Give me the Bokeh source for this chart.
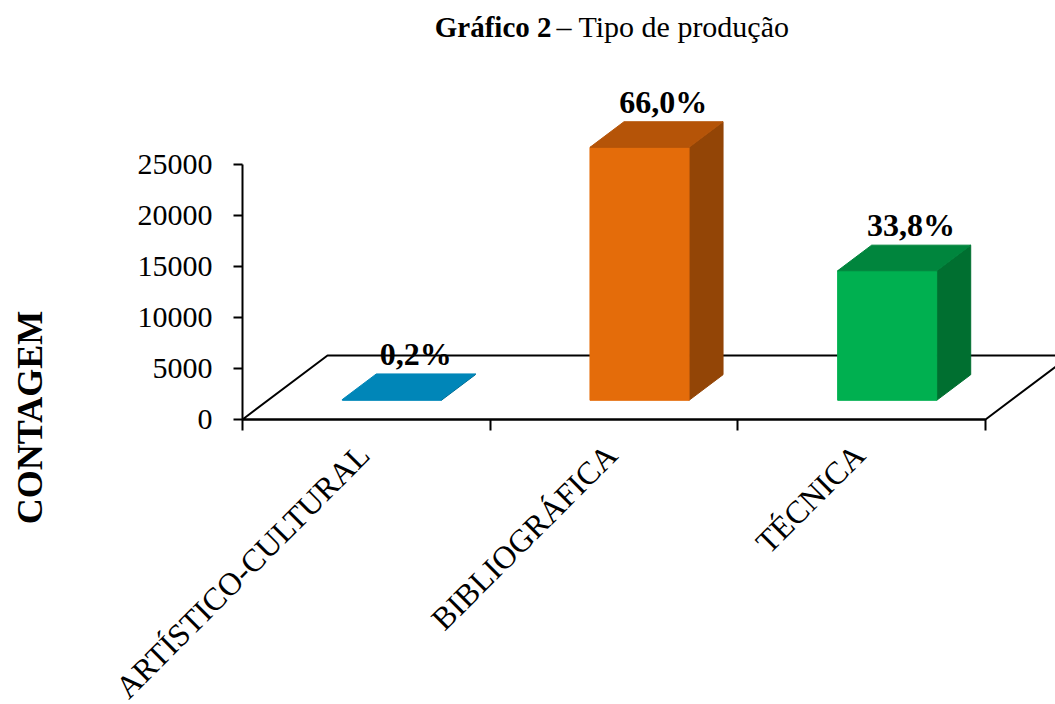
import math

from bokeh.core.properties import value
from bokeh.embed import file_html
from bokeh.models import FixedTicker, Label, LinearAxis, Range1d
from bokeh.plotting import figure
from bokeh.resources import INLINE

# ---- data -------------------------------------------------------------
categories = ["ARTÍSTICO-CULTURAL", "BIBLIOGRÁFICA", "TÉCNICA"]
counts = [75, 24800, 12700]
y_ticks = [0, 5000, 10000, 15000, 20000, 25000]

front_colors = ["#0088BA", "#E46C0A", "#00B050"]
top_colors = ["#0086B8", "#B55408", "#00853D"]
side_colors = ["#006A90", "#934506", "#006F30"]

# ---- layout -----------------------------------------------------------
W, H = 1055, 704
ORIGIN_X, ORIGIN_Y = 242, 419   # pixel position of the axes origin
PX_PER_CAT = 247.67             # pixels per category slot
PX_PER_UNIT = 0.0102            # pixels per count
SERIF = "Liberation Serif"


def px_x(px):
    return (px - ORIGIN_X) / PX_PER_CAT


def px_y(py):
    return (ORIGIN_Y - py) / PX_PER_UNIT


# oblique depth of the floor, in data units
DX = 85 / PX_PER_CAT
DY = 64 / PX_PER_UNIT
BAR_W = 0.4
D_FRONT, D_BACK = 0.3, 0.7
LABEL_SHIFT = -0.01

p = figure(
    width=W, height=H,
    x_range=Range1d(px_x(0), px_x(W)), y_range=Range1d(px_y(H), px_y(0)),
    x_axis_location=None, y_axis_location=None,
    output_backend="svg", toolbar_location=None,
    min_border=0,
)
p.outline_line_color = None
p.grid.visible = False
p.background_fill_color = "white"
p.border_fill_color = "white"

# floor of the 3-D plot area
n = len(categories)
p.patch([0, n, n + DX, DX], [0, 0, DY, DY],
        fill_color="white", line_color="black", line_width=2)

# 3-D bars: right side, front face, top face
for i, (v, fc, tc, sc) in enumerate(zip(counts, front_colors, top_colors, side_colors)):
    c = i + 0.5
    xl, xr = c - BAR_W / 2, c + BAR_W / 2
    fx, fy = D_FRONT * DX, D_FRONT * DY
    bx, by = D_BACK * DX, D_BACK * DY
    p.patch([xr + fx, xr + bx, xr + bx, xr + fx], [fy, by, by + v, fy + v],
            fill_color=sc, line_color=sc, line_width=1)
    p.patch([xl + fx, xr + fx, xr + fx, xl + fx], [fy, fy, fy + v, fy + v],
            fill_color=fc, line_color=fc, line_width=1)
    p.patch([xl + fx, xr + fx, xr + bx, xl + bx], [fy + v, fy + v, by + v, by + v],
            fill_color=tc, line_color=tc, line_width=1)

# percentage labels above each bar
total = sum(counts)
pct = [f"{v / total * 100:.1f}".replace(".", ",") + "%" for v in counts]
p.text(
    x=[i + 0.5 + 0.58 * DX for i in range(n)],
    y=[v + D_BACK * DY + 20 / PX_PER_UNIT for v in counts],
    text=pct, text_align="center", text_baseline="alphabetic",
    text_font=value(SERIF), text_font_style="bold",
    text_font_size="32px", text_color="black",
)

# category axis along the front edge of the floor
xa = LinearAxis(fixed_location=0)
xa.ticker = FixedTicker(ticks=[i + 0.5 + LABEL_SHIFT for i in range(n)],
                        minor_ticks=list(range(n + 1)))
xa.major_label_overrides = {i + 0.5 + LABEL_SHIFT: cat for i, cat in enumerate(categories)}
xa.major_label_orientation = math.pi / 4
xa.major_tick_out = 0
xa.major_tick_in = 0
xa.minor_tick_out = 11
xa.minor_tick_in = 0
xa.minor_tick_line_width = 2
xa.minor_tick_line_color = "black"
xa.bounds = (0, n)
xa.axis_line_width = 2
xa.axis_line_color = "black"
xa.major_label_text_font = SERIF
xa.major_label_text_font_size = "32px"
xa.major_label_text_color = "black"
xa.major_label_standoff = 19
p.add_layout(xa, "below")

# count axis
ya = LinearAxis(fixed_location=0)
ya.ticker = FixedTicker(ticks=y_ticks)
ya.minor_tick_out = 0
ya.minor_tick_in = 0
ya.major_tick_out = 9
ya.major_tick_in = 0
ya.major_tick_line_width = 2
ya.major_tick_line_color = "black"
ya.bounds = (0, y_ticks[-1])
ya.axis_line_width = 2
ya.axis_line_color = "black"
ya.major_label_text_font = SERIF
ya.major_label_text_font_size = "30px"
ya.major_label_text_color = "black"
ya.major_label_standoff = 21
p.add_layout(ya, "left")

# title, split into bold and regular parts
title_x, title_y = px_x(551), px_y(26)
p.add_layout(Label(x=title_x, y=title_y, text="Gráfico 2", text_align="right",
                   text_baseline="alphabetic", text_font=SERIF,
                   text_font_style="bold", text_font_size="29px", text_color="black"))
p.add_layout(Label(x=title_x, y=title_y, x_offset=5, text="– Tipo de produção",
                   text_align="left", text_baseline="alphabetic", text_font=SERIF,
                   text_font_size="30px", text_color="black"))

# vertical axis caption
p.text(x=[px_x(29)], y=[px_y(417)], text=["CONTAGEM"], angle=math.pi / 2,
       text_align="center", text_baseline="middle", text_font=value(SERIF),
       text_font_style="bold", text_font_size="36px", text_color="black")

open("out.html", "w").write(file_html(p, INLINE))
